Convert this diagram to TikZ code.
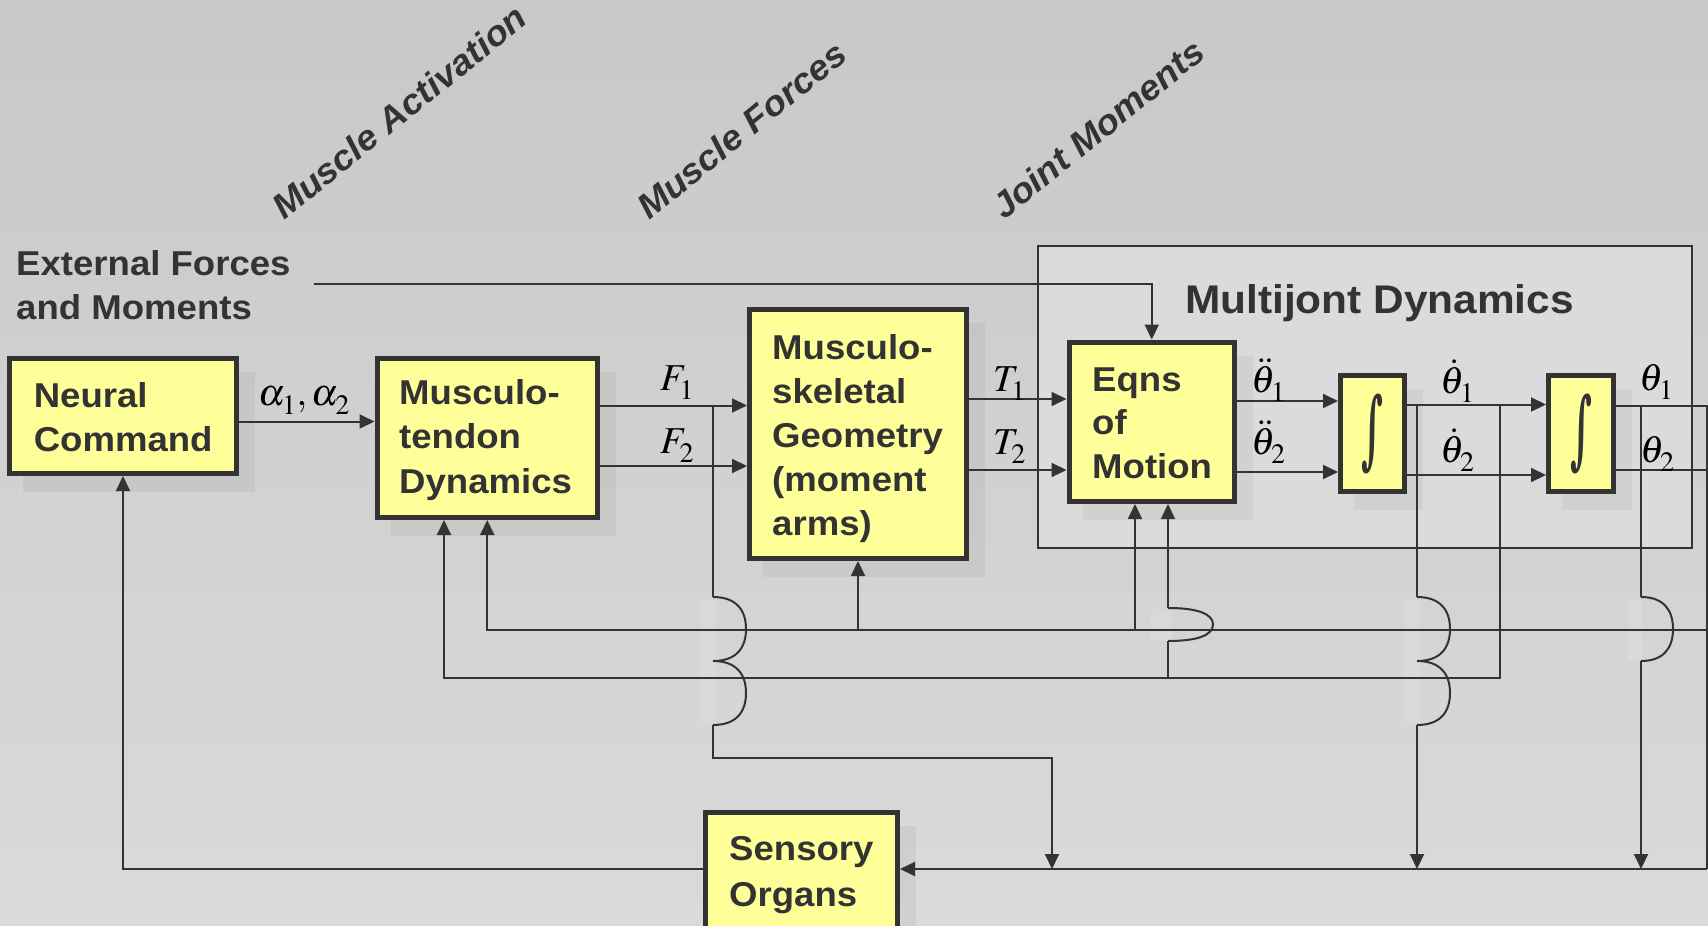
\documentclass[tikz,border=0pt]{standalone}
\usepackage{mathptmx}
\usepackage[no-math]{fontspec}
\usepackage{graphicx}
\setmainfont{Liberation Sans}[FakeStretch=1.06]
\newfontfamily\intfont{DejaVu Serif}
\usetikzlibrary{arrows.meta,calc}
\definecolor{ink}{HTML}{333333}
\definecolor{boxy}{HTML}{FFFF99}
\definecolor{bgtop}{HTML}{C8C8C8}
\definecolor{bgbot}{HTML}{DADADA}
\definecolor{framefill}{HTML}{DBDBDB}
\newcommand\vlines[2][44.5pt]{\vtop{\baselineskip=#1\lineskiplimit=-200pt\lineskip=0pt #2}}
\newcommand\lsub[1]{_{\raisebox{-4pt}{$\scriptstyle #1$}}}
\tikzset{
 blk/.style={draw=ink, fill=boxy, line width=5pt, inner sep=0pt, rectangle},
 shad/.style={fill=black, fill opacity=0.045},
 lbl/.style={text=ink, font=\fontsize{34.5}{44.5}\selectfont\bfseries, inner sep=0pt, anchor=base west},
 rlbl/.style={text=ink, font=\fontsize{35}{40}\selectfont\bfseries\itshape, inner sep=0pt, anchor=base west, rotate=39},
 mlbl/.style={text=black, font=\fontsize{38}{40}\selectfont, inner sep=0pt, anchor=base west},
 ln/.style={draw=ink, line width=2pt},
 arr/.style={ln, -{Triangle[length=15pt,width=14pt]}},
 mask/.style={fill=white, fill opacity=0.12},
}
\newcommand\blk[5]{%
 \fill[shad] ({#2+16},{#3+16}) rectangle ({#4+16},{#5+16});
 \node[blk, minimum width={#4-#2-5}, minimum height={#5-#3-5}] (#1) at ({(#2+#4)/2},{(#3+#5)/2}) {};}
\newcommand\bumpv[4]{%
 \draw[ln] (#1,#2) .. controls ({#1+0.7*#4},#2) and ({#1+#4},{#2+0.2*(#3-#2)}) .. ({#1+#4},{(#2+#3)/2})
   .. controls ({#1+#4},{#2+0.8*(#3-#2)}) and ({#1+0.7*#4},#3) .. (#1,#3);}
\begin{document}
\begin{tikzpicture}[x=1pt,y=-1pt]
\useasboundingbox (0,0) rectangle (1708,926);
\clip (0,0) rectangle (1708,926);
\shade[top color=bgtop, bottom color=bgbot] (0,0) rectangle (1708,926);
% frame
\node[draw=ink, fill=framefill, line width=2pt, minimum width=654, minimum height=302, inner sep=0pt] (mjd) at (1364.5,397) {};
% masks behind jumps
\fill[mask] (700,599) rectangle (716,723);
\fill[mask] (1151,609) rectangle (1172,641);
\fill[mask] (1404,599) rectangle (1420,723);
\fill[mask] (1628,599) rectangle (1643,660);
% boxes
\blk{nc}{7}{356}{239}{476}
\blk{mt}{374.5}{355.7}{600}{520}
\blk{geo}{747}{307}{969}{561}
\blk{eom}{1066.5}{339.5}{1237}{504}
\blk{int1}{1338}{373}{1407}{494}
\blk{int2}{1546}{373}{1616}{494}
\blk{so}{703}{810}{900}{960}
% coordinates
\coordinate (yA) at (0,421.5);
\coordinate (yF1) at (0,405.5);
\coordinate (yF2) at (0,466);
\coordinate (yT1) at (0,399);
\coordinate (yT2) at (0,470);
\coordinate (yDD1) at (0,401);
\coordinate (yDD2) at (0,472);
\coordinate (yD1) at (0,404.5);
\coordinate (yD2) at (0,475);
\coordinate (yTh1) at (0,405.5);
\coordinate (yTh2) at (0,469.5);
\coordinate (yP) at (0,630);
\coordinate (yV) at (0,678);
\coordinate (yS) at (0,869);
\coordinate (yE) at (0,284);
\coordinate (xR) at (1706.5,0);
\coordinate (xEdge) at (1709,0);
\coordinate (xF) at (713,0);
\coordinate (xG) at (1052,0);
\coordinate (xE1) at (1135,0);
\coordinate (xE2) at (1168,0);
\coordinate (xV1) at (1417,0);
\coordinate (xV2) at (1500,0);
\coordinate (xM1) at (444,0);
\coordinate (xT) at (1641,0);
\coordinate (e0) at (313.7,284);
% forward path
\draw[arr] (nc.east |- yA) -- (mt.west |- yA);
\draw[arr] (mt.east |- yF1) -- (geo.west |- yF1);
\draw[arr] (mt.east |- yF2) -- (geo.west |- yF2);
\draw[arr] (geo.east |- yT1) -- (eom.west |- yT1);
\draw[arr] (geo.east |- yT2) -- (eom.west |- yT2);
\draw[arr] (eom.east |- yDD1) -- (int1.west |- yDD1);
\draw[arr] (eom.east |- yDD2) -- (int1.west |- yDD2);
\draw[arr] (int1.east |- yD1) -- (int2.west |- yD1);
\draw[arr] (int1.east |- yD2) -- (int2.west |- yD2);
\draw[ln] (int2.east |- yTh1) -- (xEdge |- yTh1);
\draw[ln] (int2.east |- yTh2) -- (xEdge |- yTh2);
% external forces
\draw[arr] (e0) -- (eom.north |- yE) -- (eom.north);
% sensory bus
\draw[arr] (xR |- yS) -- (so.east |- yS);
\draw[ln] (xR |- yTh1) -- (xR |- yS);
\draw[arr] (so.west |- yS) -| (nc.south);
% position bus
\draw[arr] (xEdge |- yP) -| (mt.south);
\draw[arr] (geo.south |- yP) -- (geo.south);
\draw[arr] (xE1 |- yP) -- (xE1 |- eom.south);
% velocity bus
\draw[arr] (xV2 |- yD1) -- (xV2 |- yV) -- (xM1 |- yV) -- (xM1 |- mt.south);
\draw[ln] (xE2 |- yV) -- (1168,641);
\bumpv{1168}{608}{641}{45}
\draw[arr] (1168,608) -- (xE2 |- eom.south);
% force tap
\draw[ln] (xF |- yF1) -- (713,597);
\bumpv{713}{597}{661}{33}
\bumpv{713}{661}{725}{33}
\draw[arr] (713,725) -- (713,757.7) -| (xG |- yS);
% velocity tap
\draw[ln] (xV1 |- yD1) -- (1417,597);
\bumpv{1417}{597}{661}{33}
\bumpv{1417}{661}{725}{33}
\draw[arr] (1417,725) -- (xV1 |- yS);
% angle tap
\draw[ln] (xT |- yTh1) -- (1641,597);
\bumpv{1641}{597}{661}{32}
\draw[arr] (1641,661) -- (xT |- yS);
% box texts
\node[lbl] (tnc) at (33.6,407) {\vlines{\hbox{Neural}\hbox{Command}}};
\node[lbl] (tmt) at (399,404) {\vlines{\hbox{Musculo-}\hbox{tendon}\hbox{Dynamics}}};
\node[lbl] (tgeo) at (772,359) {\vlines[44pt]{\hbox{Musculo-}\hbox{skeletal}\hbox{Geometry}\hbox{(moment}\hbox{arms)}}};
\node[lbl] (teom) at (1092,391) {\vlines[43.8pt]{\hbox{Eqns}\hbox{of}\hbox{Motion}}};
\node[lbl] (tso) at (729,860) {\vlines[46pt]{\hbox{Sensory}\hbox{Organs}}};
\node[lbl] (tef) at (16,275) {\vlines[44pt]{\hbox{External Forces}\hbox{and Moments}}};
\node[lbl, font=\fontsize{40}{44}\selectfont\bfseries] (tmj) at (1185,313) {Multijont Dynamics};
% rotated titles
\node[rlbl] (ma) at (284,221) {Muscle Activation};
\node[rlbl] (mf) at (649,221) {Muscle Forces};
\node[rlbl] (jm) at (1004,221) {Joint Moments};
% integrals
\node[text=ink, inner sep=0pt] (i1s) at (int1) {\resizebox*{22pt}{80pt}{\intfont\bfseries ∫}};
\node[text=ink, inner sep=0pt] (i2s) at (int2) {\resizebox*{22pt}{80pt}{\intfont\bfseries ∫}};
% math labels
\node[mlbl] (la) at (258,405) {$\alpha\lsub{1},\alpha\lsub{2}$};
\node[mlbl] (lf1) at (660,390) {$F\lsub{1}$};
\node[mlbl] (lf2) at (660,453) {$F\lsub{2}$};
\node[mlbl] (lt1) at (993,391) {$T\lsub{1}$};
\node[mlbl] (lt2) at (993,454) {$T\lsub{2}$};
\node[mlbl] (ldd1) at (1251,392) {$\ddot\theta\lsub{1}$};
\node[mlbl] (ldd2) at (1251,454) {$\ddot\theta\lsub{2}$};
\node[mlbl] (ld1) at (1440,393) {$\dot\theta\lsub{1}$};
\node[mlbl] (ld2) at (1440,462) {$\dot\theta\lsub{2}$};
\node[mlbl] (lth1) at (1639,390) {$\theta\lsub{1}$};
\node[mlbl] (lth2) at (1640,462) {$\theta\lsub{2}$};
\end{tikzpicture}
\end{document}
